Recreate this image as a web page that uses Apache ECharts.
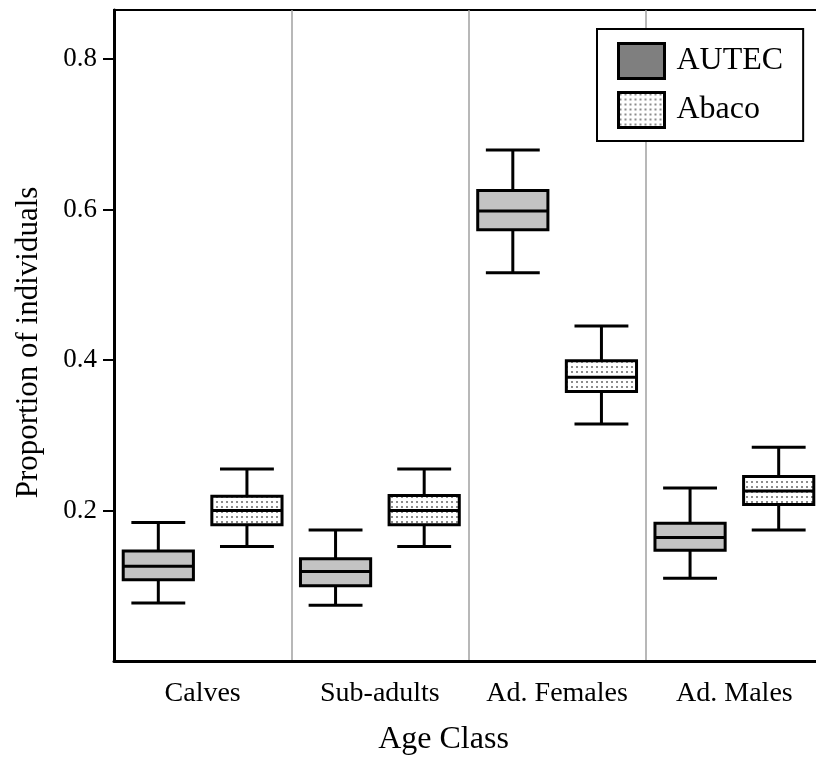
<!DOCTYPE html>
<html>
<head>
<meta charset="utf-8">
<script src="https://cdn.jsdelivr.net/npm/echarts@6/dist/echarts.min.js"></script>
<style>
  html, body { margin: 0; padding: 0; background: #fff; }
  #chart { width: 816px; height: 757px; }
</style>
</head>
<body>
<div id="chart"></div>
<script>
const categories = ['Calves', 'Sub-adults', 'Ad. Females', 'Ad. Males'];
const yTicks = [0.2, 0.4, 0.6, 0.8];

// AUTEC boxes: lower whisker, Q1, median, Q3, upper whisker
const autecLow    = [0.077, 0.074, 0.516, 0.110];
const autecQ1     = [0.108, 0.100, 0.573, 0.147];
const autecMedian = [0.126, 0.119, 0.598, 0.164];
const autecQ3     = [0.146, 0.136, 0.625, 0.183];
const autecHigh   = [0.184, 0.174, 0.679, 0.230];

// Abaco boxes
const abacoLow    = [0.152, 0.152, 0.315, 0.174];
const abacoQ1     = [0.181, 0.181, 0.358, 0.208];
const abacoMedian = [0.200, 0.200, 0.377, 0.226];
const abacoQ3     = [0.219, 0.220, 0.399, 0.245];
const abacoHigh   = [0.255, 0.255, 0.445, 0.284];


function makeRows(low, q1, med, q3, high) {
    return categories.map((c, i) => [i, low[i], q1[i], med[i], q3[i], high[i]]);
}

// small dotted tile for the Abaco fill
function makeDots() {
    const cv = document.createElement('canvas');
    cv.width = 5;
    cv.height = 5;
    const ctx = cv.getContext('2d');
    ctx.fillStyle = '#fff';
    ctx.fillRect(0, 0, 5, 5);
    ctx.fillStyle = '#8c8c8c';
    ctx.fillRect(1, 1, 2, 2);
    return { image: cv, repeat: 'repeat' };
}

const dots = makeDots();
const serif = 'Liberation Serif';

function renderBox(params, api) {
    const band = api.size([1, 0])[0];
    const shift = (params.seriesIndex === 0 ? -0.25 : 0.25) * band;
    const x = api.coord([api.value(0), 0])[0] + shift;
    const yLow = api.coord([0, api.value(1)])[1];
    const yQ1 = api.coord([0, api.value(2)])[1];
    const yMed = api.coord([0, api.value(3)])[1];
    const yQ3 = api.coord([0, api.value(4)])[1];
    const yHigh = api.coord([0, api.value(5)])[1];
    const half = band * 0.198;
    const cap = band * 0.152;
    const fill = params.seriesIndex === 0 ? '#c3c3c3' : dots;
    const line = { stroke: '#000', lineWidth: 3 };
    return {
        type: 'group',
        children: [
            { type: 'line', shape: { x1: x, y1: yLow, x2: x, y2: yQ1 }, style: line },
            { type: 'line', shape: { x1: x, y1: yQ3, x2: x, y2: yHigh }, style: line },
            { type: 'line', shape: { x1: x - cap, y1: yLow, x2: x + cap, y2: yLow }, style: line },
            { type: 'line', shape: { x1: x - cap, y1: yHigh, x2: x + cap, y2: yHigh }, style: line },
            {
                type: 'rect',
                shape: { x: x - half, y: yQ3, width: half * 2, height: yQ1 - yQ3 },
                style: { fill: fill, stroke: '#000', lineWidth: 3 }
            },
            { type: 'line', shape: { x1: x - half, y1: yMed, x2: x + half, y2: yMed }, style: line }
        ]
    };
}

var chartDom = document.getElementById('chart');
var myChart = echarts.init(chartDom);
var option;
option = {
    animation: false,
    backgroundColor: '#fff',
    grid: {
        left: 114,
        top: 10,
        width: 709,
        bottom: 96,
        outerBoundsMode: 'none',
        show: true,
        borderColor: '#000',
        borderWidth: 2,
        backgroundColor: 'transparent'
    },
    legend: {
        orient: 'vertical',
        left: 597,
        top: 29,
        padding: [13, 20, 12, 20],
        itemWidth: 46,
        itemHeight: 35,
        itemGap: 11,
        borderColor: '#000',
        borderWidth: 2,
        backgroundColor: '#fff',
        icon: 'rect',
        itemStyle: { borderColor: '#000', borderWidth: 3 },
        textStyle: { fontFamily: serif, fontSize: 32, color: '#000', padding: [0, 0, 0, 7] },
        data: [
            { name: 'AUTEC', itemStyle: { color: '#7f7f7f' } },
            { name: 'Abaco', itemStyle: { color: dots } }
        ]
    },
    xAxis: {
        type: 'category',
        data: categories,
        name: 'Age Class',
        nameLocation: 'middle',
        nameGap: 63,
        nameTextStyle: { fontFamily: serif, fontSize: 32, color: '#000', padding: [0, 50, 0, 0] },
        axisLine: { lineStyle: { color: '#000', width: 3 } },
        axisTick: { alignWithLabel: true, interval: 0, length: 9, lineStyle: { color: '#000', width: 2 } },
        axisLabel: { fontFamily: serif, fontSize: 28, color: '#000', margin: 19, interval: 0 },
        splitLine: { show: true, interval: 0, lineStyle: { color: '#a0a0a0', width: 1.5 } }
    },
    yAxis: {
        type: 'value',
        min: 0,
        max: 0.865,
        interval: 0.2,
        name: 'Proportion of individuals',
        nameLocation: 'middle',
        nameGap: 70,
        nameTextStyle: { fontFamily: serif, fontSize: 31, color: '#000', padding: [0, 14, 0, 0] },
        axisLine: { show: true, lineStyle: { color: '#000', width: 3 } },
        axisTick: { show: true, length: 11, customValues: yTicks, lineStyle: { color: '#000', width: 2 } },
        axisLabel: {
            fontFamily: serif, fontSize: 27, color: '#000', margin: 17,
            customValues: yTicks,
            formatter: v => v.toFixed(1)
        },
        splitLine: { show: false }
    },
    series: [
        {
            name: 'AUTEC',
            type: 'custom',
            renderItem: renderBox,
            itemStyle: { color: '#7f7f7f' },
            encode: { x: 0, y: [1, 2, 3, 4, 5] },
            data: makeRows(autecLow, autecQ1, autecMedian, autecQ3, autecHigh)
        },
        {
            name: 'Abaco',
            type: 'custom',
            renderItem: renderBox,
            itemStyle: { color: dots },
            encode: { x: 0, y: [1, 2, 3, 4, 5] },
            data: makeRows(abacoLow, abacoQ1, abacoMedian, abacoQ3, abacoHigh)
        }
    ]
};
option && myChart.setOption(option);
</script>
</body>
</html>
